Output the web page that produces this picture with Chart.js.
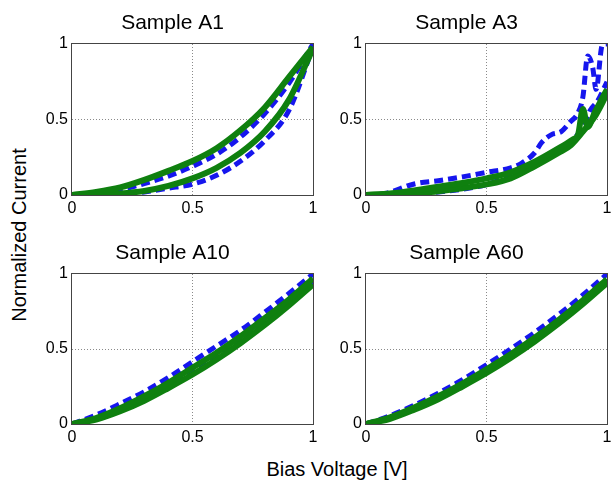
<!DOCTYPE html>
<html>
<head>
<meta charset="utf-8">
<script src="https://cdn.jsdelivr.net/npm/chart.js@4/dist/chart.umd.min.js"></script>
<style>
  html, body { margin: 0; padding: 0; overflow: hidden; background: #fff; }
  body { width: 614px; height: 481px; position: relative; font-family: "Liberation Sans", Arial, sans-serif; }
  canvas { position: absolute; }
  .lbl { position: absolute; font-size: 20px; line-height: 20px; color: #000; white-space: nowrap; }
  #ylab { left: 19px; top: 235px; transform: translate(-50%, -50%) rotate(-90deg); }
  #xlab { left: 337px; top: 459px; transform: translateX(-50%); }
</style>
</head>
<body>
<canvas id="a1" width="321" height="225" style="left:32px;top:0px"></canvas>
<canvas id="a3" width="321" height="225" style="left:326px;top:0px"></canvas>
<canvas id="a10" width="321" height="224" style="left:32px;top:230px"></canvas>
<canvas id="a60" width="321" height="224" style="left:326px;top:230px"></canvas>
<div class="lbl" id="ylab">Normalized Current</div>
<div class="lbl" id="xlab">Bias Voltage [V]</div>
<script>
// bias voltage grid shared by A1, A10, A60
const voltage = [0, 0.1, 0.2, 0.3, 0.4, 0.5, 0.6, 0.7, 0.8, 0.9, 1];
const tickValues = [0, 0.5, 1];

// Sample A1 (hysteresis loop)
const a1BlueLow = [0, 0, 0, 0.02, 0.045, 0.072, 0.13, 0.225, 0.36, 0.56, 0.98];
const a1BlueHigh = [0, 0.01, 0.035, 0.075, 0.125, 0.19, 0.27, 0.385, 0.54, 0.74, 1.0];
const a1GreenLow = [0, 0.003, 0.01, 0.027, 0.06, 0.11, 0.18, 0.28, 0.42, 0.63, 0.97];
const a1GreenHigh = [0, 0.02, 0.05, 0.1, 0.16, 0.225, 0.31, 0.43, 0.58, 0.78, 0.98];

// Sample A3 (noisy, own voltage points)
const a3BlueHighX = [0, 0.08, 0.2, 0.3, 0.4, 0.5, 0.6, 0.645, 0.7, 0.73, 0.77, 0.81, 0.845, 0.88, 0.9, 0.92, 0.94, 0.955, 0.98, 1];
const a3BlueHigh = [0, 0.01, 0.073, 0.095, 0.12, 0.15, 0.18, 0.21, 0.28, 0.35, 0.4, 0.42, 0.48, 0.545, 0.65, 0.92, 0.85, 0.7, 0.99, 1.0];
const a3BlueLowX = [0, 0.3, 0.5, 0.7, 0.8, 0.9, 0.93, 0.96, 1];
const a3BlueLow = [0, 0.02, 0.07, 0.2, 0.29, 0.45, 0.56, 0.62, 0.75];
const a3GreenLowX = [0, 0.1, 0.2, 0.3, 0.4, 0.5, 0.6, 0.7, 0.8, 0.85, 0.9, 0.95, 1];
const a3GreenLow = [0, 0.003, 0.01, 0.025, 0.045, 0.07, 0.11, 0.19, 0.28, 0.33, 0.42, 0.52, 0.67];
const a3GreenHighX = [0, 0.1, 0.2, 0.3, 0.4, 0.5, 0.6, 0.7, 0.8, 0.86, 0.88, 0.9, 0.92, 0.95, 0.98, 1];
const a3GreenHigh = [0, 0.01, 0.03, 0.055, 0.08, 0.11, 0.15, 0.22, 0.31, 0.37, 0.4, 0.57, 0.45, 0.55, 0.64, 0.7];

// Sample A10
const a10Blue = [0, 0.06, 0.135, 0.215, 0.31, 0.415, 0.52, 0.625, 0.745, 0.87, 1.0];
const a10BlueLow = [0, 0.035, 0.095, 0.17, 0.26, 0.35, 0.45, 0.56, 0.68, 0.81, 0.95];
const a10GreenHigh = [0, 0.04, 0.105, 0.185, 0.275, 0.375, 0.475, 0.585, 0.705, 0.83, 0.97];
const a10GreenLow = [0, 0.03, 0.085, 0.155, 0.24, 0.33, 0.43, 0.54, 0.66, 0.79, 0.93];

// Sample A60
const a60Blue = [0, 0.055, 0.125, 0.205, 0.295, 0.395, 0.5, 0.61, 0.73, 0.86, 1.0];
const a60GreenHigh = [0, 0.045, 0.11, 0.185, 0.27, 0.365, 0.465, 0.575, 0.695, 0.825, 0.965];
const a60GreenLow = [0, 0.035, 0.095, 0.165, 0.25, 0.34, 0.44, 0.55, 0.67, 0.8, 0.94];

function curve(xs, ys, kind) {
  const blue = kind === 'b';
  return {
    data: xs.map((x, i) => ({ x: x, y: ys[i] })),
    showLine: true,
    pointRadius: 0,
    borderColor: blue ? '#1616ee' : '#0f800f',
    borderWidth: blue ? 5 : 6,
    borderDash: blue ? [9, 5] : [],
    cubicInterpolationMode: 'monotone',
    clip: 0,
    fill: false
  };
}

// frame around the plot area
const boxPlugin = {
  id: 'box',
  afterDraw(chart) {
    const a = chart.chartArea, ctx = chart.ctx;
    ctx.save();
    ctx.strokeStyle = '#444';
    ctx.lineWidth = 1;
    ctx.strokeRect(Math.round(a.left) - 0.5, Math.round(a.top) - 0.5,
      Math.round(a.right - a.left) + 1, Math.round(a.bottom - a.top) + 1);
    ctx.restore();
  }
};

function axis(pos) {
  return {
    type: 'linear',
    position: pos,
    min: 0, max: 1,
    afterBuildTicks: s => { s.ticks = tickValues.map(v => ({ value: v })); },
    afterFit: s => { if (pos === 'left') s.width = 40; else s.height = 30; },
    ticks: {
      color: '#000',
      padding: 4,
      font: { size: 16, family: '"Liberation Sans", Arial, sans-serif' },
      callback: v => String(v),
      maxRotation: 0,
      autoSkip: false
    },
    grid: {
      drawTicks: false,
      lineWidth: 1,
      color: c => (c.tick && c.tick.value === 0.5) ? '#8a8a8a' : 'rgba(0,0,0,0)'
    },
    border: { display: false, dash: [1, 2] }
  };
}

function panel(id, title, datasets) {
  new Chart(document.getElementById(id), {
    type: 'scatter',
    data: { datasets: datasets },
    options: {
      responsive: false,
      animation: false,
      devicePixelRatio: 1,
      layout: { padding: { left: 0, right: 40, top: 0, bottom: 0 } },
      plugins: {
        legend: { display: false },
        tooltip: { enabled: false },
        title: {
          display: true,
          text: title,
          color: '#000',
          font: { size: 21, weight: 'normal', family: '"Liberation Sans", Arial, sans-serif' },
          padding: { top: 11, bottom: 7.8 }
        }
      },
      scales: { x: axis('bottom'), y: axis('left') }
    },
    plugins: [boxPlugin]
  });
}

panel('a1', 'Sample A1', [
  curve(voltage, a1GreenHigh, 'g'),
  curve(voltage, a1GreenLow, 'g'),
  curve(voltage, a1BlueHigh, 'b'),
  curve(voltage, a1BlueLow, 'b')
]);
panel('a3', 'Sample A3', [
  curve(a3GreenHighX, a3GreenHigh, 'g'),
  curve(a3GreenLowX, a3GreenLow, 'g'),
  curve(a3BlueHighX, a3BlueHigh, 'b'),
  curve(a3BlueLowX, a3BlueLow, 'b')
]);
panel('a10', 'Sample A10', [
  curve(voltage, a10GreenHigh, 'g'),
  curve(voltage, a10GreenLow, 'g'),
  curve(voltage, a10Blue, 'b'),
  curve(voltage, a10BlueLow, 'b')
]);
panel('a60', 'Sample A60', [
  curve(voltage, a60GreenHigh, 'g'),
  curve(voltage, a60GreenLow, 'g'),
  curve(voltage, a60Blue, 'b')
]);
</script>
</body>
</html>
